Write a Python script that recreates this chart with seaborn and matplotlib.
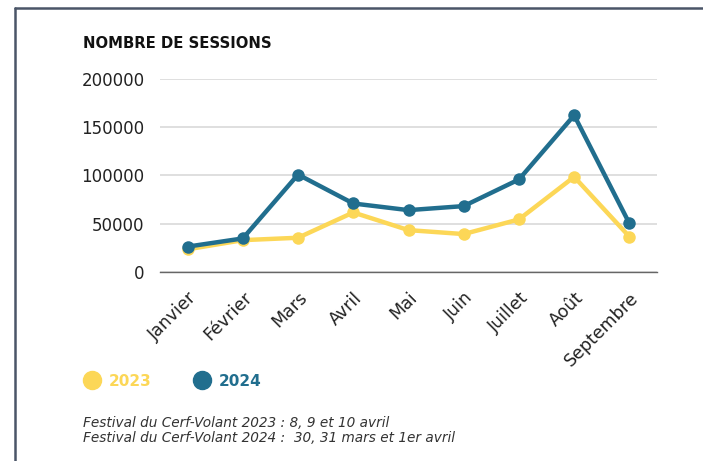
import matplotlib
matplotlib.use("Agg")
import matplotlib.pyplot as plt
from matplotlib.lines import Line2D
import seaborn as sns
import pandas as pd

mois = ["Janvier", "Février", "Mars", "Avril", "Mai", "Juin", "Juillet", "Août", "Septembre"]
sessions_2023 = [23500, 33000, 35500, 61700, 43400, 39300, 54500, 98600, 36600]
sessions_2024 = [26300, 34800, 101000, 71000, 64100, 68300, 95900, 162400, 50300]
yticks = [0, 50000, 100000, 150000, 200000]
titre = "NOMBRE DE SESSIONS"
notes = ["Festival du Cerf-Volant 2023 : 8, 9 et 10 avril",
         "Festival du Cerf-Volant 2024 :  30, 31 mars et 1er avril"]

JAUNE = "#FCD757"
BLEU = "#216E8E"

df = pd.DataFrame({
    "mois": mois * 2,
    "sessions": sessions_2023 + sessions_2024,
    "annee": ["2023"] * len(mois) + ["2024"] * len(mois),
})

sns.set_theme(style="white")
plt.rcParams["font.family"] = ["DejaVu Sans"]

fig = plt.figure(figsize=(7.03, 4.61), dpi=100)
ax = fig.add_axes([160 / 703, 1 - 272 / 461, (657 - 160) / 703, (272 - 79) / 461])

sns.lineplot(data=df, x="mois", y="sessions", hue="annee",
             palette={"2023": JAUNE, "2024": BLEU}, marker="o",
             markersize=9, markeredgewidth=0, linewidth=3.2,
             legend=False, ax=ax, sort=False)

ax.set_xlim(-0.5, len(mois) - 0.5)
ax.set_ylim(0, 200000)
ax.set_yticks(yticks)
ax.set_yticklabels([str(v) for v in yticks])
ax.yaxis.grid(True, color="#d9d9d9", linewidth=1.2)
ax.xaxis.grid(False)
for s in ["top", "right", "left"]:
    ax.spines[s].set_visible(False)
ax.spines["bottom"].set_color("#666666")
ax.spines["bottom"].set_linewidth(1.0)
ax.set_xlabel("")
ax.set_ylabel("")
ax.tick_params(axis="y", length=0, pad=11, labelsize=12, labelcolor="#222222")
ax.tick_params(axis="x", length=0, pad=12, labelsize=12.5, labelcolor="#222222")
for lab in ax.get_xticklabels():
    lab.set_rotation(45)
    lab.set_ha("right")
    lab.set_va("top")
    lab.set_rotation_mode("anchor")
ax.set_axisbelow(True)

fig.text(83 / 703, 1 - 43 / 461, titre, fontsize=10.7, fontweight="bold",
         color="#111111", va="center", ha="left")

handles = [Line2D([], [], marker="o", linestyle="", color=JAUNE, markersize=13),
           Line2D([], [], marker="o", linestyle="", color=BLEU, markersize=13)]
leg = fig.legend(handles, ["2023", "2024"], loc="center left",
                 bbox_to_anchor=(71 / 703, 1 - 381 / 461), ncol=2, frameon=False,
                 handletextpad=0.6, columnspacing=2.75, handlelength=1.0,
                 prop={"weight": "bold", "size": 11})
for txt, c in zip(leg.get_texts(), [JAUNE, BLEU]):
    txt.set_color(c)

fig.text(83 / 703, 1 - 423 / 461, notes[0], fontsize=9.8, style="italic",
         color="#333333", va="center", ha="left")
fig.text(83 / 703, 1 - 438 / 461, notes[1], fontsize=9.8, style="italic",
         color="#333333", va="center", ha="left")

# cadre
fig.add_artist(Line2D([15 / 703, 15 / 703], [0, 1 - 8 / 461], color="#4a5568",
                      linewidth=1.8, transform=fig.transFigure))
fig.add_artist(Line2D([15 / 703, 1], [1 - 8 / 461, 1 - 8 / 461], color="#4a5568",
                      linewidth=1.8, transform=fig.transFigure))

fig.savefig("out.png", dpi=100)
